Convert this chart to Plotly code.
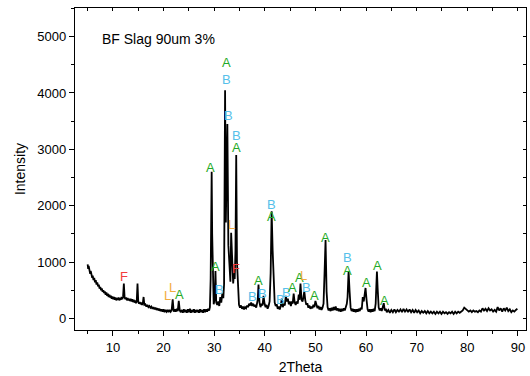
import plotly.graph_objects as go

# ---- data ----
two_theta = [
    5.0, 5.1, 5.2, 5.3, 5.4, 5.5, 5.6, 5.7, 5.8, 5.9, 6.0, 6.15, 6.3, 6.45, 6.6, 6.75, 6.9, 7.05, 7.2, 7.35,
    7.5, 7.65, 7.8, 7.95, 8.1, 8.25, 8.4, 8.55, 8.7, 8.85, 9.0, 9.15, 9.3, 9.45, 9.6, 9.75, 9.9, 10.05,
    10.2, 10.35, 10.5, 10.65, 10.8, 10.95, 11.1, 11.25, 11.4, 11.55, 11.7, 11.85, 12.0, 12.15, 12.3, 12.45,
    12.6, 12.75, 12.9, 13.05, 13.2, 13.35, 13.5, 13.65, 13.8, 13.95, 14.1, 14.25, 14.4, 14.55, 14.7, 14.85,
    15.0, 15.15, 15.3, 15.45, 15.6, 15.75, 15.9, 16.05, 16.2, 16.4, 16.6, 16.8, 17.0, 17.2, 17.4, 17.6,
    17.8, 18.0, 18.2, 18.4, 18.6, 18.8, 19.0, 19.2, 19.4, 19.6, 19.8, 20.0, 20.2, 20.4, 20.6, 20.8, 21.0,
    21.2, 21.4, 21.6, 21.8, 22.0, 22.2, 22.4, 22.6, 22.8, 23.0, 23.2, 23.4, 23.6, 23.8, 24.0, 24.2, 24.4,
    24.6, 24.8, 25.0, 25.2, 25.4, 25.6, 25.8, 26.0, 26.2, 26.4, 26.6, 26.8, 27.0, 27.2, 27.4, 27.6, 27.8,
    28.0, 28.2, 28.4, 28.6, 28.8, 29.0, 29.15, 29.3, 29.4, 29.5, 29.6, 29.75, 29.9, 30.1, 30.25, 30.4,
    30.6, 30.8, 31.0, 31.2, 31.4, 31.6, 31.8, 31.95, 32.05, 32.15, 32.3, 32.45, 32.6, 32.8, 33.0, 33.2,
    33.35, 33.55, 33.75, 33.9, 34.05, 34.2, 34.35, 34.5, 34.7, 34.9, 35.1, 35.3, 35.5, 35.7, 35.9, 36.1,
    36.3, 36.5, 36.7, 36.9, 37.1, 37.3, 37.5, 37.7, 37.9, 38.1, 38.3, 38.45, 38.6, 38.75, 38.95, 39.15,
    39.35, 39.55, 39.75, 39.95, 40.15, 40.35, 40.55, 40.75, 40.95, 41.15, 41.35, 41.55, 41.75, 41.95,
    42.15, 42.35, 42.55, 42.75, 42.95, 43.15, 43.35, 43.55, 43.75, 43.95, 44.15, 44.35, 44.55, 44.75,
    44.95, 45.15, 45.35, 45.5, 45.7, 45.9, 46.1, 46.3, 46.5, 46.7, 46.85, 47.05, 47.25, 47.45, 47.6,
    47.8, 48.0, 48.2, 48.4, 48.6, 48.8, 49.0, 49.2, 49.4, 49.6, 49.8, 50.0, 50.2, 50.4, 50.6, 50.8,
    51.0, 51.2, 51.4, 51.6, 51.8, 52.0, 52.2, 52.4, 52.6, 52.8, 53.0, 53.2, 53.4, 53.6, 53.8, 54.0,
    54.2, 54.4, 54.6, 54.8, 55.0, 55.2, 55.4, 55.6, 55.8, 56.0, 56.2, 56.35, 56.55, 56.75, 56.95, 57.15,
    57.35, 57.55, 57.75, 57.95, 58.15, 58.35, 58.55, 58.75, 58.95, 59.15, 59.35, 59.55, 59.7, 59.9,
    60.1, 60.3, 60.5, 60.7, 60.9, 61.1, 61.3, 61.5, 61.7, 61.9, 62.05, 62.15, 62.3, 62.5, 62.7, 62.9,
    63.1, 63.3, 63.5, 63.7, 63.9, 64.1, 64.4, 64.7, 65.0, 65.3, 65.6, 65.9, 66.2, 66.5, 66.8, 67.1,
    67.4, 67.7, 68.0, 68.3, 68.6, 68.9, 69.2, 69.5, 69.8, 70.1, 70.4, 70.7, 71.0, 71.3, 71.6, 71.9,
    72.2, 72.5, 72.8, 73.1, 73.4, 73.7, 74.0, 74.3, 74.6, 74.9, 75.2, 75.5, 75.8, 76.1, 76.4, 76.7,
    77.0, 77.3, 77.6, 77.9, 78.2, 78.5, 78.8, 79.1, 79.4, 79.7, 80.0, 80.3, 80.6, 80.9, 81.2, 81.5,
    81.8, 82.1, 82.4, 82.7, 83.0, 83.3, 83.6, 83.9, 84.2, 84.5, 84.8, 85.1, 85.4, 85.7, 86.0, 86.3,
    86.6, 86.9, 87.2, 87.5, 87.8, 88.1, 88.4, 88.7, 89.0, 89.3, 89.6, 89.9,
]
intensity = [
    960, 880, 930, 840, 880, 790, 840, 760, 800, 720, 760, 680, 720, 640, 680, 600, 640, 570, 600, 530,
    560, 500, 530, 470, 500, 450, 480, 420, 460, 400, 440, 380, 420, 370, 400, 350, 390, 340,
    380, 330, 370, 320, 360, 330, 370, 320, 360, 330, 380, 340, 390, 620, 370, 340,
    370, 320, 360, 320, 350, 310, 350, 300, 340, 290, 330, 280, 320, 270, 310, 620,
    290, 260, 290, 250, 280, 240, 270, 380, 240, 250, 210, 240, 200, 220, 190, 210,
    170, 200, 160, 190, 150, 180, 140, 170, 130, 160, 120, 160, 110, 150, 120, 150, 110,
    150, 120, 150, 340, 120, 160, 120, 170, 130, 310, 140, 110, 150, 100, 160, 110, 150,
    100, 160, 110, 170, 100, 150, 110, 160, 100, 150, 110, 150, 100, 160, 110, 150, 100, 160,
    110, 160, 120, 170, 140, 200, 700, 1600, 2600, 1500, 450, 250, 350, 840, 280, 240,
    300, 220, 380, 280, 440, 360, 600, 2100, 4050, 1700, 2600, 3450, 1300, 800, 650, 1520,
    850, 620, 800, 700, 1200, 2900, 1000, 420, 240, 190, 230, 170, 210, 160, 200, 180,
    230, 200, 260, 230, 280, 220, 260, 210, 240, 190, 240, 330, 600, 280, 200, 260,
    230, 400, 260, 200, 240, 170, 220, 300, 800, 1900, 1200, 480, 280, 220,
    250, 170, 210, 160, 220, 350, 200, 260, 230, 400, 300, 350, 250, 300,
    220, 300, 260, 440, 280, 240, 300, 260, 420, 330, 620, 330, 300, 360, 480,
    320, 240, 270, 190, 230, 170, 210, 180, 240, 200, 310, 230, 180, 220, 160, 200,
    150, 190, 260, 800, 1390, 480, 200, 140, 180, 130, 190, 140, 200, 150, 210, 140,
    180, 130, 170, 120, 170, 130, 180, 140, 190, 260, 380, 830, 480, 190, 130, 170,
    120, 160, 110, 160, 120, 170, 130, 190, 160, 380, 300, 440, 540, 330,
    160, 120, 160, 110, 160, 120, 170, 130, 260, 620, 830, 520, 190, 140, 180, 130,
    200, 270, 140, 170, 110, 150, 100, 150, 110, 160, 110, 150, 120, 160, 110, 170,
    120, 160, 110, 160, 110, 150, 100, 150, 110, 140, 90, 130, 100, 130, 90, 130,
    90, 120, 90, 120, 80, 120, 90, 120, 80, 120, 90, 110, 80, 110, 90, 120,
    80, 120, 90, 120, 100, 130, 140, 190, 160, 150, 120, 140, 110, 140, 120, 130,
    110, 140, 120, 180, 140, 170, 130, 180, 140, 160, 120, 150, 120, 200, 140, 180,
    120, 180, 140, 190, 130, 160, 110, 140, 120, 150, 170, 250, 150,
]

phase_labels = ["F", "L", "L", "A", "A", "A", "B", "A", "B", "B", "B", "A", "L", "F",
                "B", "A", "B", "B", "A", "B", "B", "A", "A", "L", "B", "A", "A",
                "B", "A", "A", "A", "A"]
label_x = [12.2, 20.8, 21.8, 23.2, 29.3, 30.3, 31.1, 32.4, 32.4, 32.9, 34.4, 34.4, 33.5, 34.4,
           37.5, 38.8, 39.6, 41.4, 41.4, 43.1, 44.35, 45.5, 46.85, 47.6, 48.2, 49.9, 51.9,
           56.4, 56.4, 60.0, 62.3, 63.65]
label_y = [750, 405, 540, 423, 2680, 917, 505, 4545, 4240, 3600, 3250, 3030, 1660, 887,
           388, 680, 446, 2020, 1800, 328, 464, 552, 728, 770, 552, 399, 1434,
           1076, 857, 635, 935, 317]
phase_colors = {"A": "#1faa28", "B": "#55c0ea", "F": "#f23c3c", "L": "#f2ac40"}

sample_name = "BF Slag 90um 3%"
x_title = "2Theta"
y_title = "Intensity"
x_range = [2.5, 91.6]
y_range = [-206, 5508]

font_family = "Liberation Sans, Arial, sans-serif"

fig = go.Figure()
fig.add_trace(go.Scatter(
    x=two_theta, y=intensity, mode="lines",
    line=dict(color="black", width=1.8),
    showlegend=False, hoverinfo="skip",
))

for t, lx, ly in zip(phase_labels, label_x, label_y):
    fig.add_annotation(x=lx, y=ly, text=t, showarrow=False,
                       font=dict(family=font_family, size=13, color=phase_colors[t]),
                       xanchor="center", yanchor="middle")

fig.add_annotation(xref="paper", yref="paper", x=0.055, y=0.905, text=sample_name,
                   showarrow=False, xanchor="left", yanchor="middle",
                   font=dict(family=font_family, size=14, color="black"))

common = dict(showgrid=False, zeroline=False, showline=True, linecolor="black", linewidth=1.3)

fig.update_layout(
    width=530, height=376,
    margin=dict(l=75, r=3, t=8, b=44),
    paper_bgcolor="white", plot_bgcolor="white",
    font=dict(family=font_family, size=13, color="black"),
    xaxis=dict(range=x_range, dtick=10, tick0=0, ticks="outside", ticklen=5, tickwidth=1.2,
               tickcolor="black", mirror=True,
               minor=dict(dtick=5, tick0=0, ticks="outside", ticklen=3, tickcolor="black"),
               title=dict(text=x_title, font=dict(size=14), standoff=8),
               tickfont=dict(size=13), **common),
    yaxis=dict(range=y_range, dtick=1000, tick0=0, ticks="outside", ticklen=5, tickwidth=1.2,
               tickcolor="black", mirror=True,
               minor=dict(dtick=500, tick0=0, ticks="outside", ticklen=3, tickcolor="black"),
               title=dict(text=y_title, font=dict(size=14), standoff=8),
               tickfont=dict(size=13), **common),
    xaxis2=dict(range=x_range, overlaying="x", side="top", matches="x", showticklabels=False,
                dtick=5, tick0=0, ticks="inside", ticklen=3, tickcolor="black",
                showgrid=False, zeroline=False, showline=False),
    yaxis2=dict(range=y_range, overlaying="y", side="right", matches="y", showticklabels=False,
                dtick=500, tick0=0, ticks="inside", ticklen=3, tickcolor="black",
                showgrid=False, zeroline=False, showline=False),
)
fig.add_trace(go.Scatter(x=[None], y=[None], xaxis="x2", yaxis="y2", showlegend=False,
                         hoverinfo="skip"))

fig.write_html("out.html")
